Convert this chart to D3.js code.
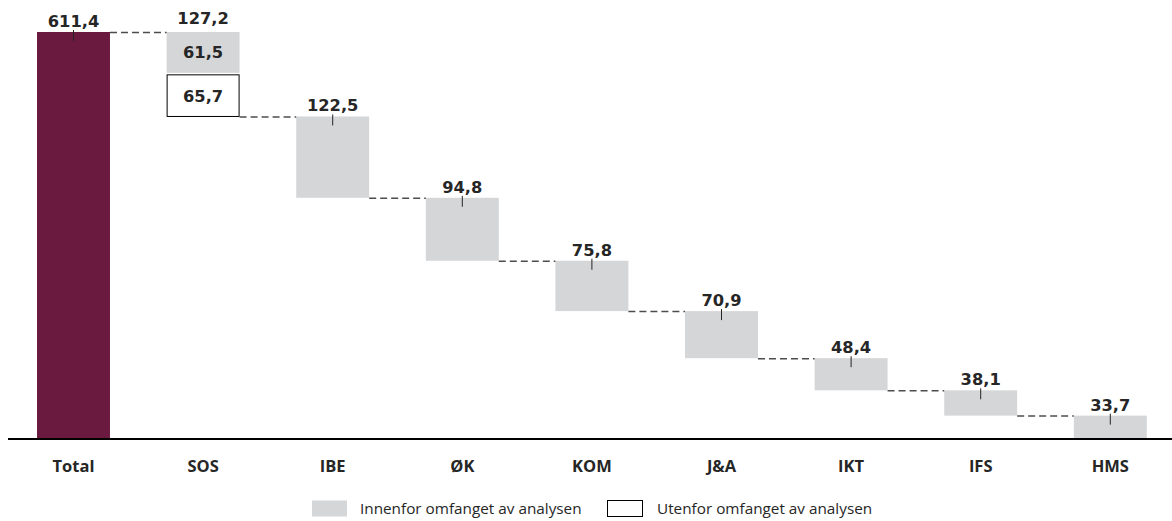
<!DOCTYPE html>
<html>
<head>
<meta charset="utf-8">
<script src="https://cdn.jsdelivr.net/npm/d3@7"></script>
<style>
  html, body { margin: 0; padding: 0; background: #fff; }
  svg { display: block; }
  text { font-family: "Open Sans", "Noto Sans", sans-serif; fill: #262626; }
  .val { font-family: "DejaVu Sans", sans-serif; font-weight: 700; font-size: 16.3px; }
</style>
</head>
<body>
<svg id="chart" width="1172" height="521"></svg>
<script>
// Cost distribution by unit (waterfall)
const categories = ["Total", "SOS", "IBE", "ØK", "KOM", "J&A", "IKT", "IFS", "HMS"];
const values = [611.4, 127.2, 122.5, 94.8, 75.8, 70.9, 48.4, 38.1, 33.7];
// SOS is split into a part inside and a part outside the scope of the analysis
const sosInside = 61.5;
const sosOutside = 65.7;
const legendLabels = ["Innenfor omfanget av analysen", "Utenfor omfanget av analysen"];

const svg = d3.select("#chart");
const fmt = v => d3.format(".1f")(v).replace(".", ",");

const x = d3.scaleBand()
  .domain(categories)
  .range([8.7, 1175.1])
  .paddingInner(0.437)
  .paddingOuter(0.2185);

const y = d3.scaleLinear()
  .domain([0, values[0]])
  .range([438, 32]);

// Build waterfall segments: total from 0, then each unit steps down
let running = values[0];
const bars = categories.map((c, i) => {
  if (i === 0) return { cat: c, v: values[i], top: values[i], bottom: 0 };
  const top = running;
  running -= values[i];
  return { cat: c, v: values[i], top, bottom: running };
});

const gBars = svg.append("g");

bars.forEach((b, i) => {
  if (i === 0) {
    gBars.append("rect")
      .attr("x", x(b.cat)).attr("width", x.bandwidth())
      .attr("y", y(b.top)).attr("height", y(b.bottom) - y(b.top))
      .attr("fill", "#6A1A3F");
  } else if (b.cat === "SOS") {
    const split = b.top - sosInside;
    gBars.append("rect")
      .attr("x", x(b.cat)).attr("width", x.bandwidth())
      .attr("y", y(b.top)).attr("height", y(split) - y(b.top))
      .attr("fill", "#D5D6D8");
    gBars.append("rect")
      .attr("x", x(b.cat) + 0.5).attr("width", x.bandwidth() - 1)
      .attr("y", y(split) + 2).attr("height", y(split - sosOutside) - y(split) - 2)
      .attr("fill", "#fff").attr("stroke", "#000").attr("stroke-width", 1);
    gBars.append("text").attr("class", "val")
      .attr("x", x(b.cat) + x.bandwidth() / 2)
      .attr("y", (y(b.top) + y(split)) / 2 + 6)
      .attr("text-anchor", "middle")
      .text(fmt(sosInside));
    gBars.append("text").attr("class", "val")
      .attr("x", x(b.cat) + x.bandwidth() / 2)
      .attr("y", (y(split) + y(split - sosOutside)) / 2 + 7)
      .attr("text-anchor", "middle")
      .text(fmt(sosOutside));
  } else {
    gBars.append("rect")
      .attr("x", x(b.cat)).attr("width", x.bandwidth())
      .attr("y", y(b.top)).attr("height", y(b.bottom) - y(b.top))
      .attr("fill", "#D5D6D8");
  }
});

// Dashed connectors between consecutive bars
const connectors = bars.slice(0, -1).map((b, i) => ({
  level: i === 0 ? b.top : b.bottom,
  from: x(b.cat) + x.bandwidth(),
  to: x(bars[i + 1].cat)
}));
svg.append("g").selectAll("line").data(connectors).join("line")
  .attr("x1", d => d.from).attr("x2", d => d.to)
  .attr("y1", d => y(d.level) + 0.5).attr("y2", d => y(d.level) + 0.5)
  .attr("stroke", "#4d4d4d").attr("stroke-width", 1.5)
  .attr("stroke-dasharray", "7,4");

// Value labels with short marker lines
const gLabels = svg.append("g");
bars.forEach(b => {
  const cx = x(b.cat) + x.bandwidth() / 2;
  if (b.cat !== "SOS") {
    gLabels.append("line")
      .attr("x1", cx).attr("x2", cx)
      .attr("y1", y(b.top) - 2).attr("y2", y(b.top) + 9)
      .attr("stroke", "#262626").attr("stroke-width", 1);
  }
  gLabels.append("text").attr("class", "val")
    .attr("x", cx)
    .attr("y", y(b.top) - (b.cat === "SOS" ? 8 : 5))
    .attr("text-anchor", "middle")
    .text(fmt(b.v));
});

// Baseline axis with category labels
const axis = svg.append("g").attr("transform", `translate(0,${y(0) + 1})`)
  .call(d3.axisBottom(x).tickSize(0).tickPadding(21));
axis.select(".domain").attr("d", "M8,0H1172").attr("stroke", "#000").attr("stroke-width", 2);
axis.selectAll("text")
  .attr("font-family", "'Open Sans', sans-serif")
  .attr("font-size", 16.5).attr("font-weight", 700).attr("fill", "#262626");

// Legend
const legend = svg.append("g");
const legendItems = [
  { label: legendLabels[0], fill: "#D5D6D8", stroke: "none", x: 312, tx: 360 },
  { label: legendLabels[1], fill: "#fff", stroke: "#000", x: 607.5, tx: 657 }
];
legendItems.forEach(d => {
  legend.append("rect")
    .attr("x", d.x).attr("y", 500.5).attr("width", 35).attr("height", 16)
    .attr("fill", d.fill).attr("stroke", d.stroke).attr("stroke-width", 1);
  legend.append("text")
    .attr("x", d.tx).attr("y", 514)
    .attr("font-size", 15.3).attr("fill", "#262626")
    .text(d.label);
});
</script>
</body>
</html>
